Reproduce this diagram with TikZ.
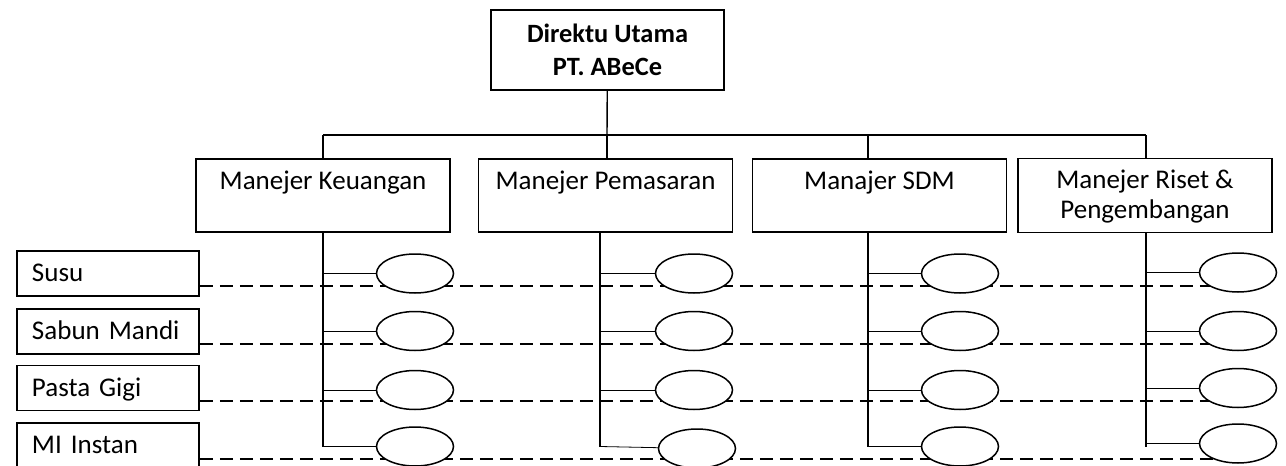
\documentclass[tikz,border=0pt]{standalone}
\usepackage{fontspec}
\setmainfont{Carlito}
\usetikzlibrary{shapes.geometric}

\begin{document}
\begin{tikzpicture}[x=0.5pt, y=-0.5pt,
    boss/.style={draw, line width=0.8pt, font=\fontsize{13.2}{16.5}\selectfont\bfseries,
        align=center, minimum width=116.5pt, minimum height=40pt},
    mgr/.style={draw, line width=0.8pt, font=\fontsize{13.5}{15}\selectfont, align=center,
        minimum width=127pt, inner ysep=7pt, text height=8pt, text depth=14.5pt},
    prod/.style={draw, line width=0.8pt, font=\fontsize{13.5}{16}\selectfont, align=left,
        text width=76pt, inner xsep=7.5pt, minimum height=22.5pt, text height=8.4pt, text depth=0pt},
    oval/.style={ellipse, draw, fill=white, line width=0.75pt, inner sep=0pt,
        minimum width=38.5pt, minimum height=19.5pt},
    line/.style={line width=0.7pt},
    stub/.style={line width=0.4pt},
    dashline/.style={line width=1pt, dash pattern=on 6.5pt off 3.5pt}]
    % 画布
    \clip (0,0) rectangle (1286,466);

    % 定义参数
    \pgfmathsetmacro{\xa}{323}  % Keuangan 纵线
    \pgfmathsetmacro{\xb}{600}  % Pemasaran 纵线
    \pgfmathsetmacro{\xc}{868}  % SDM 纵线
    \pgfmathsetmacro{\xd}{1146} % Riset 纵线
    \pgfmathsetmacro{\ox}{92}   % 椭圆到纵线的距离

    \pgfmathsetmacro{\ya}{273.5} % Susu 行
    \pgfmathsetmacro{\yb}{331}   % Sabun Mandi 行
    \pgfmathsetmacro{\yc}{390}   % Pasta Gigi 行
    \pgfmathsetmacro{\yd}{446.5} % MI Instan 行

    % 顶部
    \node[boss] (dir) at (607.5,50) {Direktu Utama\\PT. ABeCe};

    % 经理
    \node[mgr] (keu) at (323,195.5) {Manejer Keuangan};
    \node[mgr] (pem) at (605.5,195.5) {Manejer Pemasaran};
    \node[mgr] (sdm) at (879.5,195.5) {Manajer SDM};
    \node[mgr, text height=23pt, text depth=-0.5pt] (ris) at (1145,195.5) {Manejer Riset \&\\Pengembangan};

    % 产品
    \node[prod] (susu) at (108,273.5) {Susu};
    \node[prod] (sabun) at (108,331.5) {Sabun Mandi};
    \node[prod] (pasta) at (108,388) {Pasta Gigi};
    \node[prod] (mi) at (108,445.5) {MI Instan};

    % 横杠
    \coordinate (ta) at (\xa,135);
    \coordinate (tb) at (607,135);
    \coordinate (tc) at (\xc,135);
    \coordinate (td) at (\xd,135);
    \draw[line] (ta) -- (td);
    \draw[line] (dir) -- (tb);
    \draw[line] (ta) -- (ta |- keu.north);
    \draw[line] (tb) -- (tb |- pem.north);
    \draw[line] (tc) -- (tc |- sdm.north);
    \draw[line] (td) -- (td |- ris.north);

    % 纵线
    \coordinate (ka) at (\xa,\yd);
    \coordinate (kb) at (\xb,\yd);
    \coordinate (kc) at (\xc,\yd);
    \coordinate (kd) at (\xd,\yd);
    \draw[line] (ka |- keu.south) -- (ka);
    \draw[line] (kb |- pem.south) -- (kb);
    \draw[line] (kc |- sdm.south) -- (kc);
    \draw[line] (kd |- ris.south) -- (kd);

    % 虚线
    \coordinate (ed) at (\xd+\ox,0);
    \coordinate (da) at ([yshift=-6pt]susu.east);
    \coordinate (db) at ([yshift=-6pt]sabun.east);
    \coordinate (dc) at ([yshift=-6.5pt]pasta.east);
    \coordinate (dd) at ([yshift=-6.5pt]mi.east);
    \draw[dashline] (da) -- (da -| ed);
    \draw[dashline] (db) -- (db -| ed);
    \draw[dashline] (dc) -- (dc -| ed);
    \draw[dashline] (dd) -- (dd -| ed);

    % 椭圆
    \node[oval] (k1) at (\xa+\ox,\ya) {};
    \node[oval] (k2) at (\xa+\ox,\yb) {};
    \node[oval] (k3) at (\xa+\ox,\yc) {};
    \node[oval] (k4) at (\xa+\ox,\yd) {};
    \node[oval] (p1) at (\xb+\ox+2,\ya) {};
    \node[oval] (p2) at (\xb+\ox+2,\yb) {};
    \node[oval] (p3) at (\xb+\ox+2,\yc) {};
    \node[oval] (p4) at (\xb+\ox+5,\yd+2) {};
    \node[oval] (s1) at (\xc+\ox,\ya) {};
    \node[oval] (s2) at (\xc+\ox,\yb) {};
    \node[oval] (s3) at (\xc+\ox,\yc) {};
    \node[oval] (s4) at (\xc+\ox,\yd) {};
    \node[oval] (r1) at (\xd+\ox,\ya-1) {};
    \node[oval] (r2) at (\xd+\ox,\yb) {};
    \node[oval] (r3) at (\xd+\ox,\yc-2) {};
    \node[oval] (r4) at (\xd+\ox,\yd-3) {};

    % 短线
    \draw[stub] (ka |- k1) -- (k1);
    \draw[stub] (ka |- k2) -- (k2);
    \draw[stub] (ka |- k3) -- (k3);
    \draw[stub] (ka |- k4) -- (k4);
    \draw[stub] (kb |- p1) -- (p1);
    \draw[stub] (kb |- p2) -- (p2);
    \draw[stub] (kb |- p3) -- (p3);
    \draw[stub] (kb) -- (p4);
    \draw[stub] (kc |- s1) -- (s1);
    \draw[stub] (kc |- s2) -- (s2);
    \draw[stub] (kc |- s3) -- (s3);
    \draw[stub] (kc |- s4) -- (s4);
    \draw[stub] (kd |- r1) -- (r1);
    \draw[stub] (kd |- r2) -- (r2);
    \draw[stub] (kd |- r3) -- (r3);
    \draw[stub] (kd |- r4) -- (r4);
\end{tikzpicture}
\end{document}
